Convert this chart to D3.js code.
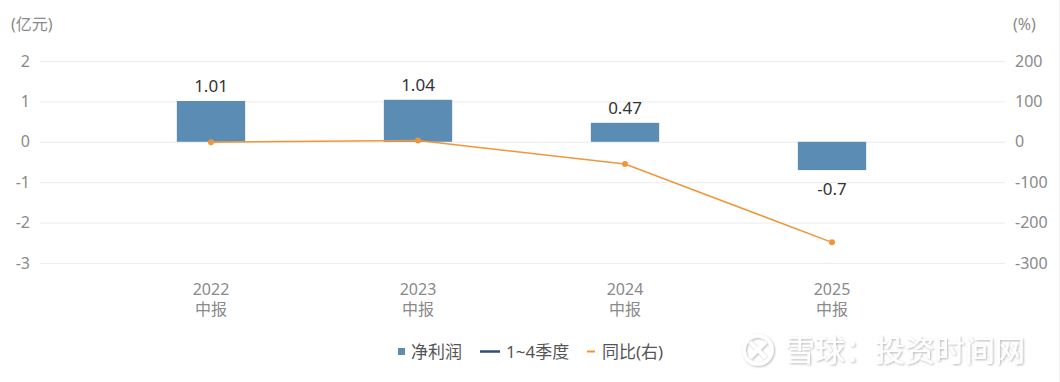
<!DOCTYPE html>
<html>
<head>
<meta charset="utf-8">
<script src="https://cdn.jsdelivr.net/npm/d3@7"></script>
<style>
  body { margin: 0; background: #fff; }
  svg { font-family: "Noto Sans", "Noto Sans CJK SC", sans-serif; }
</style>
</head>
<body>
<svg id="chart" width="1060" height="382"></svg>
<script>
const periods = ['2022', '2023', '2024', '2025'];
const periodSub = ['中报', '中报', '中报', '中报'];
const profit = [1.01, 1.04, 0.47, -0.7];
const yoy = [-1, 3, -54.8, -248.9];
const leftTicks = [2, 1, 0, -1, -2, -3];
const rightTicks = [200, 100, 0, -100, -200, -300];

const svg = d3.select('#chart');
const gridLeft = 40, gridRight = 1005;
const barColor = '#5b8db4';
const lineColor = '#f0963a';

const x = d3.scaleBand().domain(periods).range([107.5, 935.5]).paddingInner(0.67).paddingOuter(0.335);
const y = d3.scaleLinear().domain([-3, 2]).range([263, 61]);
const y2 = d3.scaleLinear().domain([-300, 200]).range([263, 61]);
const cx = d => x(d) + x.bandwidth() / 2;

// grid
svg.append('g')
  .selectAll('line').data(leftTicks).join('line')
  .attr('x1', gridLeft).attr('x2', gridRight)
  .attr('y1', d => y(d) + 0.5).attr('y2', d => y(d) + 0.5)
  .attr('stroke', '#ececec').attr('stroke-width', 1);

// left axis labels
svg.append('g')
  .selectAll('text').data(leftTicks).join('text')
  .attr('x', 30).attr('y', d => y(d)).attr('dy', '0.35em')
  .attr('text-anchor', 'end').attr('font-size', 16).attr('fill', '#8a8a8a')
  .text(d => d);
svg.append('text').attr('x', 11).attr('y', 30).attr('font-size', 16).attr('fill', '#8a8a8a').text('(亿元)');

// right axis labels
svg.append('g')
  .selectAll('text').data(rightTicks).join('text')
  .attr('x', 1015).attr('y', d => y2(d)).attr('dy', '0.35em')
  .attr('font-size', 16).attr('fill', '#8a8a8a')
  .text(d => d);
svg.append('text').attr('x', 1013).attr('y', 30).attr('font-size', 16).attr('fill', '#8a8a8a').text('(%)');

// bars
svg.append('g')
  .selectAll('rect').data(periods).join('rect')
  .attr('x', d => x(d)).attr('width', x.bandwidth())
  .attr('y', (d, i) => y(Math.max(0, profit[i])))
  .attr('height', (d, i) => Math.abs(y(profit[i]) - y(0)))
  .attr('fill', barColor);

// bar labels
svg.append('g')
  .selectAll('text').data(periods).join('text')
  .attr('x', d => cx(d))
  .attr('y', (d, i) => profit[i] >= 0 ? y(profit[i]) - 9 : y(profit[i]) + 25)
  .attr('text-anchor', 'middle').attr('font-size', 17).attr('fill', '#333')
  .text((d, i) => profit[i]);

// yoy line
const line = d3.line().x((d, i) => cx(periods[i])).y(d => y2(d));
svg.append('path').datum(yoy)
  .attr('fill', 'none').attr('stroke', lineColor).attr('stroke-width', 1.5)
  .attr('d', line);
svg.append('g')
  .selectAll('circle').data(yoy).join('circle')
  .attr('cx', (d, i) => cx(periods[i])).attr('cy', d => y2(d))
  .attr('r', 3).attr('fill', lineColor);

// x labels (two lines in one text)
const xl = svg.append('g').selectAll('text').data(periods).join('text')
  .attr('text-anchor', 'middle').attr('font-size', 16).attr('fill', '#8a8a8a');
xl.append('tspan').attr('x', d => cx(d)).attr('y', 295).text(d => d);
xl.append('tspan').attr('x', d => cx(d)).attr('y', 315).text((d, i) => periodSub[i]);

// legend
const lg = svg.append('g').attr('font-size', 17).attr('fill', '#555');
lg.append('rect').attr('x', 398).attr('y', 348).attr('width', 7).attr('height', 7).attr('fill', barColor);
lg.append('text').attr('x', 411).attr('y', 358).text('净利润');
lg.append('line').attr('x1', 480).attr('x2', 500).attr('y1', 351.5).attr('y2', 351.5).attr('stroke', '#2d4f77').attr('stroke-width', 2.5);
lg.append('text').attr('x', 506).attr('y', 358).text('1~4季度');
lg.append('line').attr('x1', 587).attr('x2', 595).attr('y1', 351.5).attr('y2', 351.5).attr('stroke', lineColor).attr('stroke-width', 2);
lg.append('text').attr('x', 602).attr('y', 358).text('同比(右)');

// watermark
const defs = svg.append('defs');
const f = defs.append('filter').attr('id', 'sh').attr('x', '-10%').attr('y', '-30%').attr('width', '120%').attr('height', '160%');
f.append('feDropShadow').attr('dx', 1).attr('dy', 1).attr('stdDeviation', 1.2).attr('flood-color', '#000').attr('flood-opacity', 0.3);
const wm = svg.append('g').attr('filter', 'url(#sh)');
wm.append('circle').attr('cx', 758).attr('cy', 350).attr('r', 14).attr('fill', 'none').attr('stroke', '#fff').attr('stroke-width', 3.5);
wm.append('path').attr('d', 'M750,342 L766,358 M766,342 L750,358').attr('stroke', '#fff').attr('stroke-width', 3.5).attr('fill', 'none');
wm.append('text').attr('x', 785).attr('y', 361).attr('font-size', 30).attr('fill', '#fff')
  .attr('font-family', '"Noto Sans CJK SC"').text('雪球：投资时间网');

// right border
svg.append('line').attr('x1', 1059.5).attr('x2', 1059.5).attr('y1', 0).attr('y2', 382).attr('stroke', '#f0f0f0');
</script>
</body>
</html>
